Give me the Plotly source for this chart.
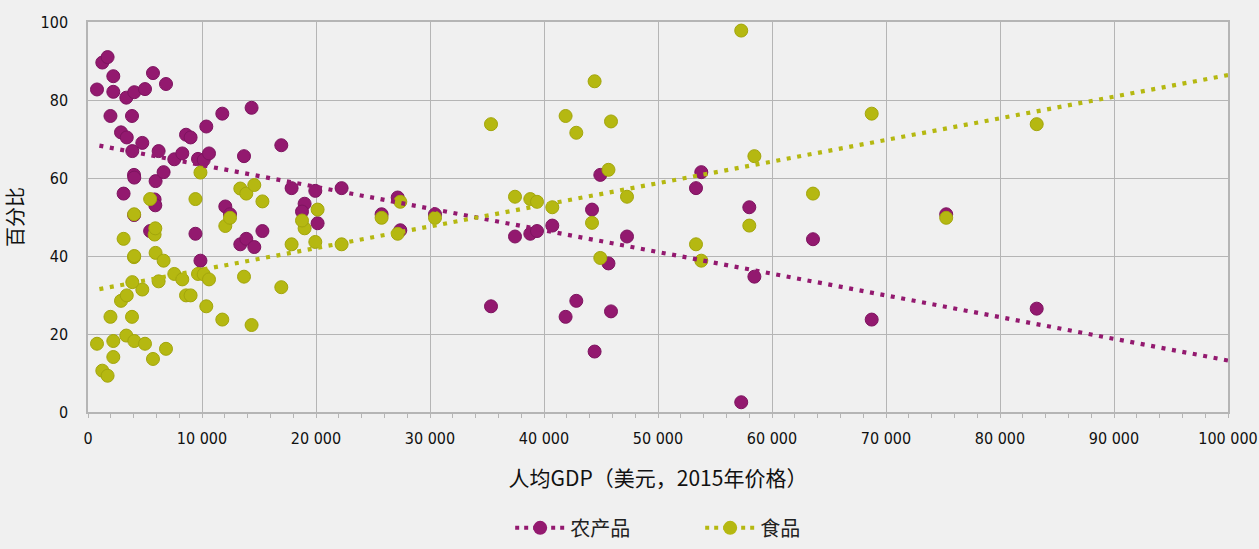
import plotly.graph_objects as go

# Per-country data: GDP per capita (USD, 2015 prices), share of agricultural products, share of food (%)
gdp = [789, 1254, 1719, 2220, 2220, 1970, 3360, 4061, 5000, 5700,
       6842, 3860, 2895, 3400, 4763, 3886, 6196, 7570, 8272, 8600,
       9000, 9649, 10150, 10614, 10377, 11781, 14350, 13684, 16956, 4035,
       4060, 3123, 5930, 6632, 5842, 5904, 17860, 19939, 19000, 18772,
       12044, 12456, 20140, 9864, 5452, 9425, 13360, 13886, 14588, 15300,
       4048, 22246, 27167, 25754, 27395, 30439, 37456, 38798, 39386, 40728,
       44211, 44939, 47281, 45655, 53333, 53798, 35351, 42833, 41895, 45877,
       44439, 57300, 58009, 58455, 63596, 75281, 68746, 83220]
agri = [82.7, 89.6, 91.0, 86.1, 82.1, 75.9, 80.6, 82.0, 82.8, 86.9,
        84.1, 75.9, 71.7, 70.4, 69.0, 66.9, 66.9, 64.8, 66.3, 71.1,
        70.4, 64.9, 64.6, 66.3, 73.2, 76.5, 78.0, 65.6, 68.4, 60.8,
        60.1, 56.0, 59.2, 61.5, 54.5, 53.0, 57.4, 56.7, 53.4, 51.4,
        52.7, 50.7, 48.4, 38.8, 46.4, 45.7, 43.0, 44.4, 42.3, 46.4,
        50.5, 57.4, 55.0, 50.7, 46.6, 50.7, 45.0, 45.7, 46.4, 47.8,
        51.9, 60.8, 45.0, 38.1, 57.4, 61.5, 27.1, 28.5, 24.4, 25.8,
        15.5, 2.5, 52.5, 34.7, 44.3, 50.7, 23.7, 26.5]
food = [17.5, 10.6, 9.3, 14.1, 18.2, 24.4, 19.6, 18.2, 17.5, 13.6,
        16.2, 24.4, 28.5, 29.9, 31.4, 33.3, 33.5, 35.4, 34.0, 29.9,
        29.9, 35.4, 35.3, 34.0, 27.1, 23.7, 22.3, 34.7, 32.0, 39.7,
        40.0, 44.4, 40.8, 38.8, 45.5, 47.1, 43.0, 43.6, 47.1, 49.1,
        47.7, 49.8, 51.9, 61.4, 54.6, 54.6, 57.3, 56.0, 58.2, 54.0,
        50.7, 43.0, 45.7, 49.8, 53.9, 49.8, 55.2, 54.6, 53.9, 52.5,
        48.5, 39.5, 55.2, 62.1, 43.0, 38.8, 73.8, 71.6, 75.9, 74.5,
        84.8, 97.8, 47.8, 65.6, 56.0, 49.8, 76.5, 73.8]

# Linear trend lines (start / end values)
trend_x = [1000, 100000]
agri_trend = [68.3, 13.2]
food_trend = [31.5, 86.4]

series_names = ["农产品", "食品"]
x_ticks = list(range(0, 100001, 10000))
y_ticks = list(range(0, 101, 20))
x_title = "人均GDP（美元，2015年价格）"
y_title = "百分比"

PURPLE = "#93196f"
PURPLE_EDGE = "#7e1460"
YELLOW = "#b5b811"
YELLOW_EDGE = "#a3a60c"

fig = go.Figure()

for vals, color, edge in [(agri, PURPLE, PURPLE_EDGE), (food, YELLOW, YELLOW_EDGE)]:
    fig.add_trace(go.Scatter(
        x=gdp, y=vals, mode="markers", showlegend=False,
        marker=dict(size=13, color=color, line=dict(width=1, color=edge)),
    ))

dash = "4px,6.6px"
for vals, color in [(agri_trend, PURPLE), (food_trend, YELLOW)]:
    fig.add_trace(go.Scatter(
        x=trend_x, y=vals, mode="lines", showlegend=False,
        line=dict(color=color, width=4.2, dash=dash), hoverinfo="skip",
    ))

for name, color in zip(series_names, [PURPLE, YELLOW]):
    fig.add_trace(go.Scatter(
        x=[None], y=[None], mode="lines+markers", name=name,
        line=dict(color=color, width=4, dash="4px,5px"),
        marker=dict(size=14, color=color),
    ))

tick_font = dict(family="Liberation Sans Narrow, DejaVu Sans Condensed, sans-serif", size=16, color="#111111")
grid = "#b5b5b5"

fig.update_layout(
    width=1259, height=549,
    paper_bgcolor="#f0f0f0", plot_bgcolor="#f0f0f0",
    margin=dict(l=88, r=31, t=22, b=137, autoexpand=False),
    separators=". ",
    showlegend=True,
    legend=dict(
        orientation="h", x=0.537, xanchor="center",
        yref="container", y=0.003, yanchor="bottom",
        font=dict(family="Noto Sans CJK SC", size=20, color="#222222"),
        itemwidth=50, bgcolor="rgba(0,0,0,0)", traceorder="normal",
        entrywidth=125,
    ),
    xaxis=dict(
        range=[0, 100000], tickvals=x_ticks, tickformat=",d",
        showgrid=True, gridcolor=grid, gridwidth=1,
        showline=True, linecolor=grid, linewidth=1.5, mirror=True,
        ticks="outside", ticklen=4, tickcolor=grid, ticklabelstandoff=7,
        ticklabeloverflow="allow",
        minor=dict(dtick=2000, ticks="outside", ticklen=4, tickcolor=grid, showgrid=False),
        tickfont=tick_font, zeroline=False, automargin=False,
        title=dict(text=x_title, font=dict(family="Liberation Sans Narrow, Noto Sans CJK SC", size=21, color="#111111"), standoff=24),
    ),
    yaxis=dict(
        range=[0, 100], tickvals=y_ticks,
        showgrid=True, gridcolor=grid, gridwidth=1,
        showline=True, linecolor=grid, linewidth=1.5, mirror=True,
        ticks="", tickfont=tick_font, zeroline=False, ticklabelstandoff=15,
        automargin=False,
        title=dict(text=y_title, font=dict(family="Noto Sans CJK SC", size=20, color="#111111"), standoff=26),
    ),
)

fig.write_html(
    "out.html",
    config={"displayModeBar": False},
    post_script="document.body.style.margin='0';document.body.style.background='#f0f0f0';",
)
